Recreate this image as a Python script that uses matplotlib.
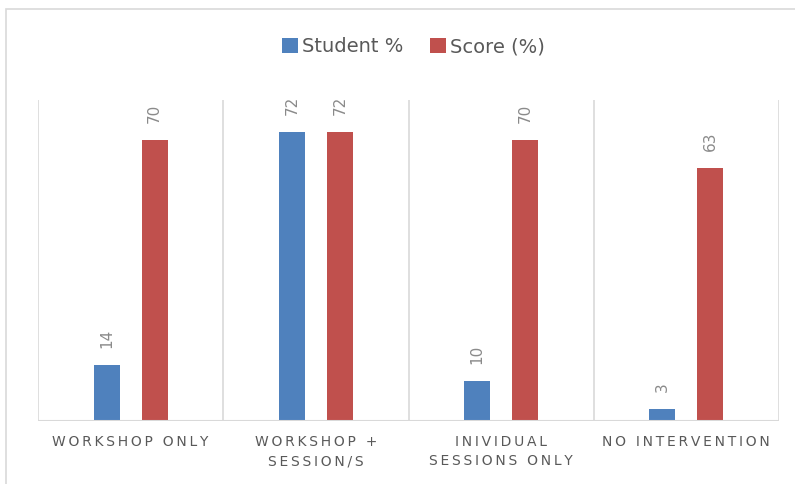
import numpy as np
import matplotlib
matplotlib.use('Agg')
import matplotlib.pyplot as plt
from matplotlib.patches import Rectangle

categories = ["WORKSHOP ONLY", "WORKSHOP +\nSESSION/S",
              "INIVIDUAL\nSESSIONS ONLY", "NO INTERVENTION"]
student_pct = [14, 72, 10, 3]
score_pct = [70, 72, 70, 63]
series_names = ["Student %", "Score (%)"]

blue = '#4F81BD'
red = '#C0504D'
grid_col = '#d9d9d9'


def spaced(s):
    # mimic Excel's character spacing on the axis labels
    return "\n".join("\u2009".join(ch for ch in line) for line in s.split("\n"))


plt.rcParams['font.family'] = ['DejaVu Sans']

fig = plt.figure(figsize=(7.95, 4.84), dpi=100)
fig.patches.append(Rectangle((6 / 795, -0.01), 1.0, 1 - 9 / 484 + 0.01,
                             transform=fig.transFigure, fill=False,
                             edgecolor=grid_col, linewidth=1.2))

ax = fig.add_axes([38 / 795, 63 / 484, 741 / 795, 321 / 484])
x = np.arange(len(categories))
w = 0.14
off = 0.13
b1 = ax.bar(x - off, student_pct, w, color=blue, label=series_names[0])
b2 = ax.bar(x + off, score_pct, w, color=red, label=series_names[1])

for bars, vals in ((b1, student_pct), (b2, score_pct)):
    for r, v in zip(bars, vals):
        ax.text(r.get_x() + r.get_width() / 2, v + 4.2, str(v),
                rotation=90, ha='center', va='bottom', fontsize=11,
                color='#8a8a8a')

ax.set_xlim(-0.5, len(categories) - 0.5)
ax.set_ylim(0, 80)
for b in np.arange(-0.5, len(categories), 1.0):
    ax.axvline(b, color=grid_col, linewidth=1.2, zorder=0)

for s in ax.spines.values():
    s.set_visible(False)
ax.axhline(0, color=grid_col, linewidth=1.5, zorder=3)
ax.set_yticks([])
ax.set_xticks(x)
ax.set_xticklabels([spaced(c) for c in categories], fontsize=10,
                   color='#595959', linespacing=1.5)
ax.tick_params(axis='x', length=0, pad=10)

fig.legend(handles=[b1, b2], loc='center', bbox_to_anchor=(0.52, 1 - 47 / 484),
           ncol=2, frameon=False, fontsize=14, handlelength=0.8,
           handleheight=0.8, handletextpad=0.2, columnspacing=1.4,
           labelcolor='#595959')

fig.savefig('out.png', dpi=100)
